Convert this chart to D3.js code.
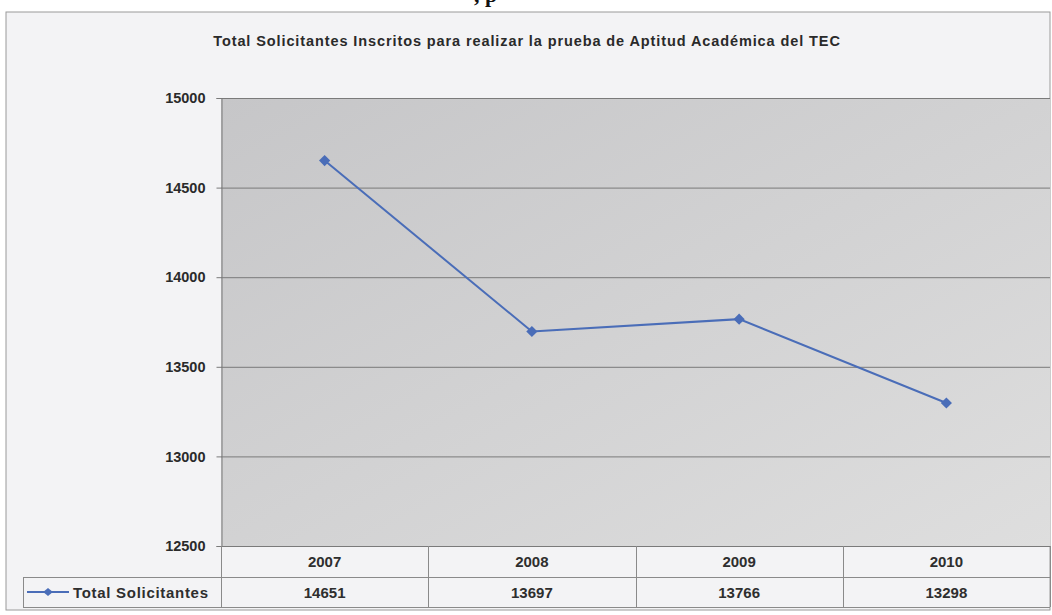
<!DOCTYPE html>
<html><head><meta charset="utf-8">
<script src="https://cdn.jsdelivr.net/npm/d3@7/dist/d3.min.js"></script>
<style>
html,body{margin:0;padding:0;background:#fff;}
svg{display:block;font-family:"Liberation Sans",Arial,sans-serif;}
</style></head>
<body>
<svg id="c" width="1052" height="615"></svg>
<script>
const years = ["2007","2008","2009","2010"];
const totals = [14651,13697,13766,13298];
const yTicks = [12500,13000,13500,14000,14500,15000];
const seriesName = "Total Solicitantes";
const title = "Total Solicitantes Inscritos para realizar la prueba de Aptitud Académica del TEC";

const svg = d3.select("#c");
const frame = {x:6, y:12, w:1044, h:598};
const plot = {l:221, r:1050, t:98, b:546};
const row1b = 577, row2b = 607, legendLeft = 23;

const defs = svg.append("defs");
const g1 = defs.append("linearGradient").attr("id","pg").attr("x1","0").attr("y1","0").attr("x2","1").attr("y2","1");
g1.append("stop").attr("offset","0").attr("stop-color","#c6c6c8");
g1.append("stop").attr("offset","1").attr("stop-color","#dedede");

// clipped heading fragment from the scanned page
svg.append("text").attr("x",474).attr("y",2).attr("font-family","Liberation Serif, Times New Roman, serif")
  .attr("font-weight","bold").attr("font-size",22).attr("fill","#111").text(", p");

svg.append("rect").attr("x",frame.x).attr("y",frame.y).attr("width",frame.w).attr("height",frame.h)
  .attr("fill","#f3f3f5").attr("stroke","#9a9a9a").attr("stroke-width",1);

svg.append("text").attr("x",527).attr("y",46).attr("text-anchor","middle")
  .attr("font-weight","bold").attr("font-size",14.5).attr("letter-spacing",0.9).attr("fill","#2a2a2a").text(title);

const x = d3.scaleBand().domain(years).range([plot.l, plot.r]);
const y = d3.scaleLinear().domain([12500,15000]).range([plot.b, plot.t]);

svg.append("rect").attr("x",plot.l).attr("y",plot.t).attr("width",plot.r-plot.l).attr("height",plot.b-plot.t)
  .attr("fill","url(#pg)");

svg.append("g").selectAll("line").data(yTicks).join("line")
  .attr("x1",plot.l).attr("x2",plot.r).attr("y1",d=>y(d)+0.5).attr("y2",d=>y(d)+0.5)
  .attr("stroke","#7a7a7a").attr("stroke-width",1);

const ya = svg.append("g").attr("transform",`translate(${plot.l+0.5},0)`)
  .call(d3.axisLeft(y).tickValues(yTicks).tickSize(5).tickPadding(11).tickFormat(d3.format("d")));
ya.select(".domain").attr("stroke","#7a7a7a");
ya.selectAll(".tick line").attr("stroke","#7a7a7a");
ya.selectAll("text").attr("font-family","Liberation Sans, Arial, sans-serif").attr("font-weight","bold")
  .attr("font-size",14.5).attr("fill","#2a2a2a");

// data table
const tg = svg.append("g").attr("stroke","#8a8a8a").attr("stroke-width",1);
tg.append("line").attr("x1",plot.l).attr("x2",plot.r).attr("y1",row1b+0.5).attr("y2",row1b+0.5);
tg.append("line").attr("x1",legendLeft).attr("x2",plot.l).attr("y1",row1b+0.5).attr("y2",row1b+0.5);
tg.append("line").attr("x1",legendLeft).attr("x2",plot.r).attr("y1",row2b+0.5).attr("y2",row2b+0.5);
tg.append("line").attr("x1",legendLeft+0.5).attr("x2",legendLeft+0.5).attr("y1",row1b).attr("y2",row2b);
const bounds = years.map(d=>x(d)).concat([plot.r]);
tg.selectAll(".v").data(bounds).join("line").attr("class","v")
  .attr("x1",d=>Math.round(d)+0.5).attr("x2",d=>Math.round(d)+0.5)
  .attr("y1",plot.b).attr("y2",row2b);

svg.append("g").selectAll("text").data(years).join("text")
  .attr("x",d=>x(d)+x.bandwidth()/2).attr("y",567).attr("text-anchor","middle")
  .attr("font-weight","bold").attr("font-size",15).attr("fill","#2e2e2e").text(d=>d);
svg.append("g").selectAll("text").data(totals).join("text")
  .attr("x",(d,i)=>x(years[i])+x.bandwidth()/2).attr("y",598).attr("text-anchor","middle")
  .attr("font-weight","bold").attr("font-size",15).attr("fill","#2e2e2e").text(d=>d);

const blue = "#4a6db8";
svg.append("line").attr("x1",27).attr("x2",69).attr("y1",592).attr("y2",592).attr("stroke",blue).attr("stroke-width",2);
svg.append("path").attr("d",d3.symbol(d3.symbolDiamond2, 60)()).attr("transform","translate(48,592) scale(1,0.85)").attr("fill",blue);
svg.append("text").attr("x",73).attr("y",598).attr("font-weight","bold").attr("font-size",15).attr("letter-spacing",0.7)
  .attr("fill","#2e2e2e").text(seriesName);

const line = d3.line().x((d,i)=>x(years[i])+x.bandwidth()/2).y(d=>y(d));
svg.append("path").datum(totals).attr("d",line).attr("fill","none").attr("stroke",blue).attr("stroke-width",2);
svg.append("g").selectAll("path").data(totals).join("path")
  .attr("d",d3.symbol(d3.symbolDiamond2, 80)())
  .attr("transform",(d,i)=>`translate(${x(years[i])+x.bandwidth()/2},${y(d)})`)
  .attr("fill",blue);
</script>
</body></html>
